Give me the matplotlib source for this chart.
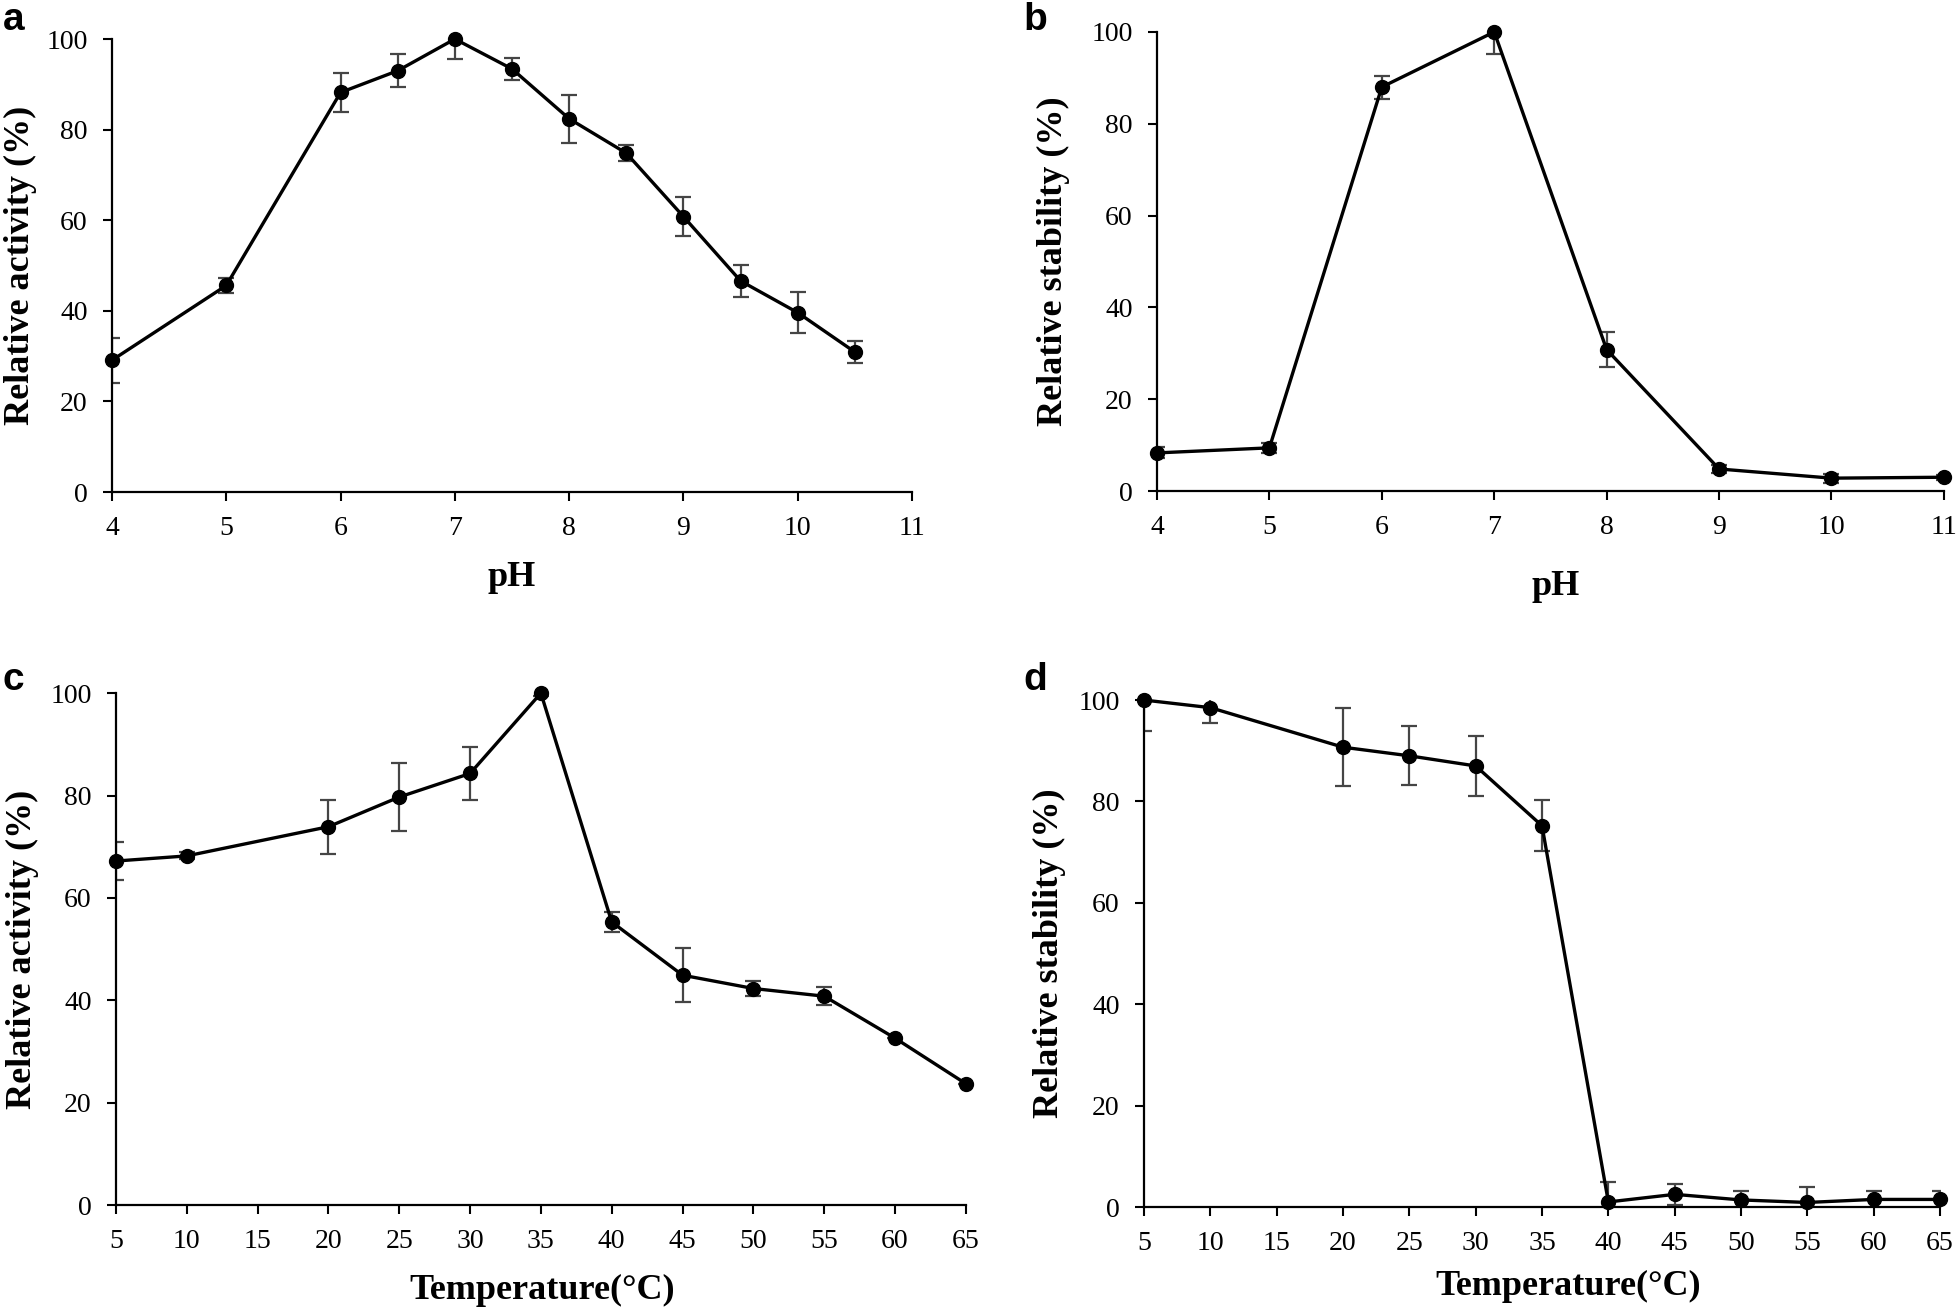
import matplotlib
matplotlib.use("Agg")
import matplotlib.pyplot as plt

plt.rcParams['font.family'] = ['Liberation Serif', 'DejaVu Serif']

# a: pH vs relative activity
ph_a = [4, 5, 6, 6.5, 7, 7.5, 8, 8.5, 9, 9.5, 10, 10.5]
act_a = [29.1, 45.6, 88.2, 93.0, 100.0, 93.4, 82.4, 74.8, 60.8, 46.6, 39.6, 30.9]
err_a = [5.0, 1.6, 4.3, 3.6, 4.5, 2.4, 5.3, 1.7, 4.3, 3.5, 4.6, 2.5]

# b: pH vs relative stability
ph_b = [4, 5, 6, 7, 8, 9, 10, 11]
stab_b = [8.3, 9.4, 88.0, 100.0, 30.8, 4.8, 2.8, 3.0]
err_b = [1.2, 1.1, 2.5, 4.7, 3.8, 0.8, 1.0, 0.5]

# c: temperature vs relative activity
temp_c = [5, 10, 20, 25, 30, 35, 40, 45, 50, 55, 60, 65]
act_c = [67.2, 68.2, 73.9, 79.7, 84.3, 100.0, 55.3, 44.9, 42.3, 40.8, 32.6, 23.7]
err_c = [3.8, 0.7, 5.3, 6.7, 5.2, 0.5, 2.0, 5.3, 1.5, 1.8, 0.0, 0.0]

# d: temperature vs relative stability
temp_d = [5, 10, 20, 25, 30, 35, 40, 45, 50, 55, 60, 65]
stab_d = [100.0, 98.5, 90.7, 89.0, 87.0, 75.2, 1.0, 2.5, 1.4, 0.9, 1.5, 1.5]
err_d = [6.2, 3.0, 7.7, 5.8, 6.0, 5.0, 3.9, 2.1, 1.8, 3.1, 1.7, 1.7]

ph_ticks = [4, 5, 6, 7, 8, 9, 10, 11]
temp_ticks = [5, 10, 15, 20, 25, 30, 35, 40, 45, 50, 55, 60, 65]
y_ticks = [0, 20, 40, 60, 80, 100]

fig = plt.figure(figsize=(19.58, 13.09), dpi=100)


def panel(rect, x, y, err, xticks, xlabel, ylabel, letter, letter_xy,
          xlab_xy, ylab_xy):
    ax = fig.add_axes(rect)
    ax.errorbar(x, y, yerr=err, fmt='none', ecolor='#454545', elinewidth=1.6,
                capsize=5.5, capthick=1.6, zorder=2)
    ax.plot(x, y, color='black', lw=2.4, marker='o', markersize=10,
            clip_on=False, zorder=3)
    ax.set_xlim(xticks[0], xticks[-1])
    ax.set_ylim(0, 100)
    ax.set_xticks(xticks)
    ax.set_yticks(y_ticks)
    for s in ['top', 'right']:
        ax.spines[s].set_visible(False)
    for s in ['left', 'bottom']:
        ax.spines[s].set_linewidth(1.6)
    ax.tick_params(direction='out', length=6.5, width=1.5, labelsize=20, pad=11)
    ax.set_xlabel(xlabel, fontsize=26, fontweight='bold', va='center')
    ax.xaxis.set_label_coords(xlab_xy[0], xlab_xy[1], transform=fig.transFigure)
    ax.set_ylabel(ylabel, fontsize=26, fontweight='bold', va='center')
    ax.yaxis.set_label_coords(ylab_xy[0], ylab_xy[1], transform=fig.transFigure)
    fig.text(letter_xy[0], letter_xy[1], letter, fontsize=28, fontweight='bold',
             family='Liberation Sans', ha='left', va='baseline')
    return ax


panel([0.0572, 0.6241, 0.4086, 0.3461], ph_a, act_a, err_a, ph_ticks,
      'pH', 'Relative activity (%)', 'a', (0.0015, 0.977),
      (0.2615, 0.5592), (0.0105, 0.797))
panel([0.5909, 0.6249, 0.4019, 0.3507], ph_b, stab_b, err_b, ph_ticks,
      'pH', 'Relative stability (%)', 'b', (0.5225, 0.977),
      (0.7947, 0.5516), (0.5378, 0.8002))
panel([0.0592, 0.0794, 0.4341, 0.3911], temp_c, act_c, err_c, temp_ticks,
      'Temperature(°C)', 'Relative activity (%)', 'c', (0.0015, 0.4729),
      (0.2768, 0.0145), (0.0115, 0.275))
panel([0.5843, 0.0779, 0.4065, 0.3873], temp_d, stab_d, err_d, temp_ticks,
      'Temperature(°C)', 'Relative stability (%)', 'd', (0.5225, 0.4729),
      (0.8008, 0.0175), (0.5358, 0.2716))

fig.savefig('out.png', dpi=100)
plt.close(fig)
